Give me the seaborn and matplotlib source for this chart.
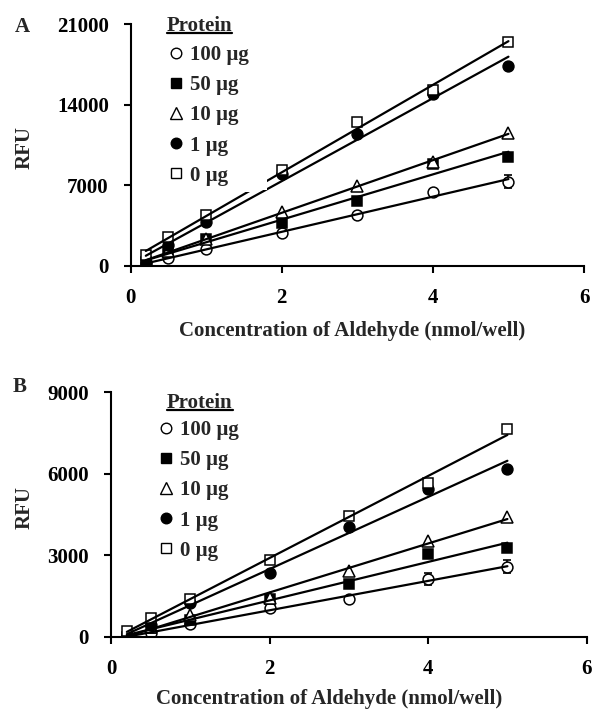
import numpy as np
import pandas as pd
import seaborn as sns
import matplotlib
matplotlib.use("Agg")
import matplotlib.pyplot as plt
from matplotlib.lines import Line2D
from matplotlib.patches import Rectangle

# ---------------- data ----------------
conc = [0.2, 0.5, 1, 2, 3, 4, 5]
protein_labels = ["100 µg", "50 µg", "10 µg", "1 µg", "0 µg"]
legend_title = "Protein"

# Panel A (RFU)
A_100 = [140, 690, 1450, 2860, 4400, 6370, 7300]
A_50 = [290, 1160, 2290, 3730, 5620, 8800, 9470]
A_10 = [350, 1300, 2290, 4630, 6950, 9040, 11500]
A_1 = [340, 1790, 3760, 7960, 11440, 14900, 17380]
A_0 = [920, 2460, 4400, 8310, 12450, 15260, 19460]
A_100_err = [0, 0, 0, 0, 0, 300, 580]

# Panel B (RFU)
B_100 = [0, 120, 470, 1040, 1390, 2130, 2580]
B_50 = [0, 310, 610, 1380, 1940, 3040, 3280]
B_10 = [25, 370, 800, 1410, 2420, 3510, 4400]
B_1 = [25, 430, 1250, 2330, 4050, 5430, 6170]
B_0 = [220, 680, 1380, 2820, 4460, 5650, 7640]
B_100_err = [0, 0, 0, 0, 0, 220, 240]

A_ticks = [0, 7000, 14000, 21000]
B_ticks = [0, 3000, 6000, 9000]
x_ticks = [0, 2, 4, 6]

# ---------------- style ----------------
sns.set_style("ticks")
plt.rcParams["font.family"] = ["Liberation Serif", "DejaVu Serif"]
plt.rcParams["font.weight"] = "bold"
plt.rcParams["axes.labelweight"] = "bold"
plt.rcParams["axes.linewidth"] = 1.5
plt.rcParams["axes.edgecolor"] = "black"

FS = 15

marker_styles = [
    dict(marker="o", mfc="white"),
    dict(marker="s", mfc="black"),
    dict(marker="^", mfc="white"),
    dict(marker="o", mfc="black"),
    dict(marker="s", mfc="white"),
]

W, H = 594, 709
fig = plt.figure(figsize=(W / 100, H / 100), dpi=100)


def fig_rect(left, right, top, bottom):
    return [left / W, 1 - bottom / H, (right - left) / W, (bottom - top) / H]


axA = fig.add_axes(fig_rect(130.7, 584, 24, 265.7))
axB = fig.add_axes(fig_rect(111, 586.7, 392.3, 636.7))


def draw_panel(ax, series, errs, yticks, ymax):
    for i, (vals, sty) in enumerate(zip(series, marker_styles)):
        df = pd.DataFrame({"x": conc, "y": vals})
        e = errs if i == 0 else None
        ax.errorbar(df["x"], df["y"], yerr=e, fmt="none", ecolor="black",
                    elinewidth=1.2, capsize=3, capthick=1.2, zorder=2)
        ax.plot(df["x"], df["y"], linestyle="none", marker=sty["marker"],
                mfc=sty["mfc"], mec="black", mew=1.1,
                ms=8.5 if sty["marker"] == "^" else 7.8, zorder=2.5)
        sns.regplot(data=df, x="x", y="y", ax=ax, ci=None, scatter=False,
                    truncate=True,
                    line_kws=dict(color="black", lw=1.6, zorder=3))
    ax.set_xlim(0, 6)
    ax.set_ylim(0, ymax)
    ax.set_xticks(x_ticks)
    ax.set_yticks(yticks)
    ax.set_xticklabels([str(t) for t in x_ticks])
    ax.set_yticklabels([str(t) for t in yticks])
    ax.tick_params(axis="both", direction="out", length=4.8, width=1.5,
                   labelsize=FS, colors="black")
    ax.tick_params(axis="y", pad=11)
    ax.tick_params(axis="x", pad=11)
    sns.despine(ax=ax)
    ax.set_xlabel("Concentration of Aldehyde (nmol/well)", fontsize=FS,
                  fontweight="bold")
    ax.set_ylabel("RFU", fontsize=FS, fontweight="bold")


draw_panel(axA, [A_100, A_50, A_10, A_1, A_0], A_100_err, A_ticks, 21000)
draw_panel(axB, [B_100, B_50, B_10, B_1, B_0], B_100_err, B_ticks, 9000)

# label positions
axA.yaxis.set_label_coords((35 - 130.7) / 453.3, 0.49)
axB.yaxis.set_label_coords((35 - 111) / 475.7, 0.527)
axA.xaxis.set_label_coords(0.4875, -0.229)
axB.xaxis.set_label_coords(0.458, -0.213)

fig.text(15 / W, 1 - 31.5 / H, "A", fontsize=FS, fontweight="bold",
         ha="left", va="baseline")
fig.text(13 / W, 1 - 392.5 / H, "B", fontsize=FS, fontweight="bold",
         ha="left", va="baseline")

# legends
handles = [Line2D([], [], linestyle="none", marker=s["marker"], mfc=s["mfc"],
                  mec="black", mew=1.0, ms=8.2 if s["marker"] == "^" else 7.6)
           for s in marker_styles]


def make_legend(ax, left_px, top_px, title_left, title_base):
    leg = ax.legend(handles, protein_labels,
                    loc="upper left",
                    bbox_to_anchor=(left_px / W, 1 - top_px / H),
                    bbox_transform=fig.transFigure,
                    prop=dict(family=["Liberation Serif"], weight="bold", size=FS),
                    frameon=True, framealpha=1, facecolor="white",
                    edgecolor="none", fancybox=False,
                    handlelength=0.8, handletextpad=0.3, labelspacing=0.485,
                    borderpad=0.3, borderaxespad=0)
    t = fig.text(title_left / W, 1 - title_base / H, legend_title,
                 fontsize=FS, fontweight="bold", ha="left", va="baseline",
                 zorder=10)
    return leg, t


legA, tA = make_legend(axA, 161, 39, 166.7, 30.7)
legB, tB = make_legend(axB, 151, 414, 167, 408)

fig.canvas.draw()
for t in (tA, tB):
    bb = t.get_window_extent()
    base = bb.y0 + 0.22 * FS * 100 / 72  # approx descent
    y = base - 2.0
    fig.add_artist(Line2D([bb.x0 / W, bb.x1 / W], [y / H, y / H],
                          transform=fig.transFigure, color="black", lw=1.6,
                          zorder=10))

# white backing behind legend A (extends a little to the right, as in the figure)
bbA = legA.get_window_extent()
axA.add_patch(Rectangle((bbA.x0 / W, (bbA.y0 + 2) / H),
                        (bbA.width + 12) / W, (bbA.height - 2) / H,
                        transform=fig.transFigure, facecolor="white",
                        edgecolor="none", zorder=4, clip_on=False))

fig.savefig("out.png", dpi=100)
